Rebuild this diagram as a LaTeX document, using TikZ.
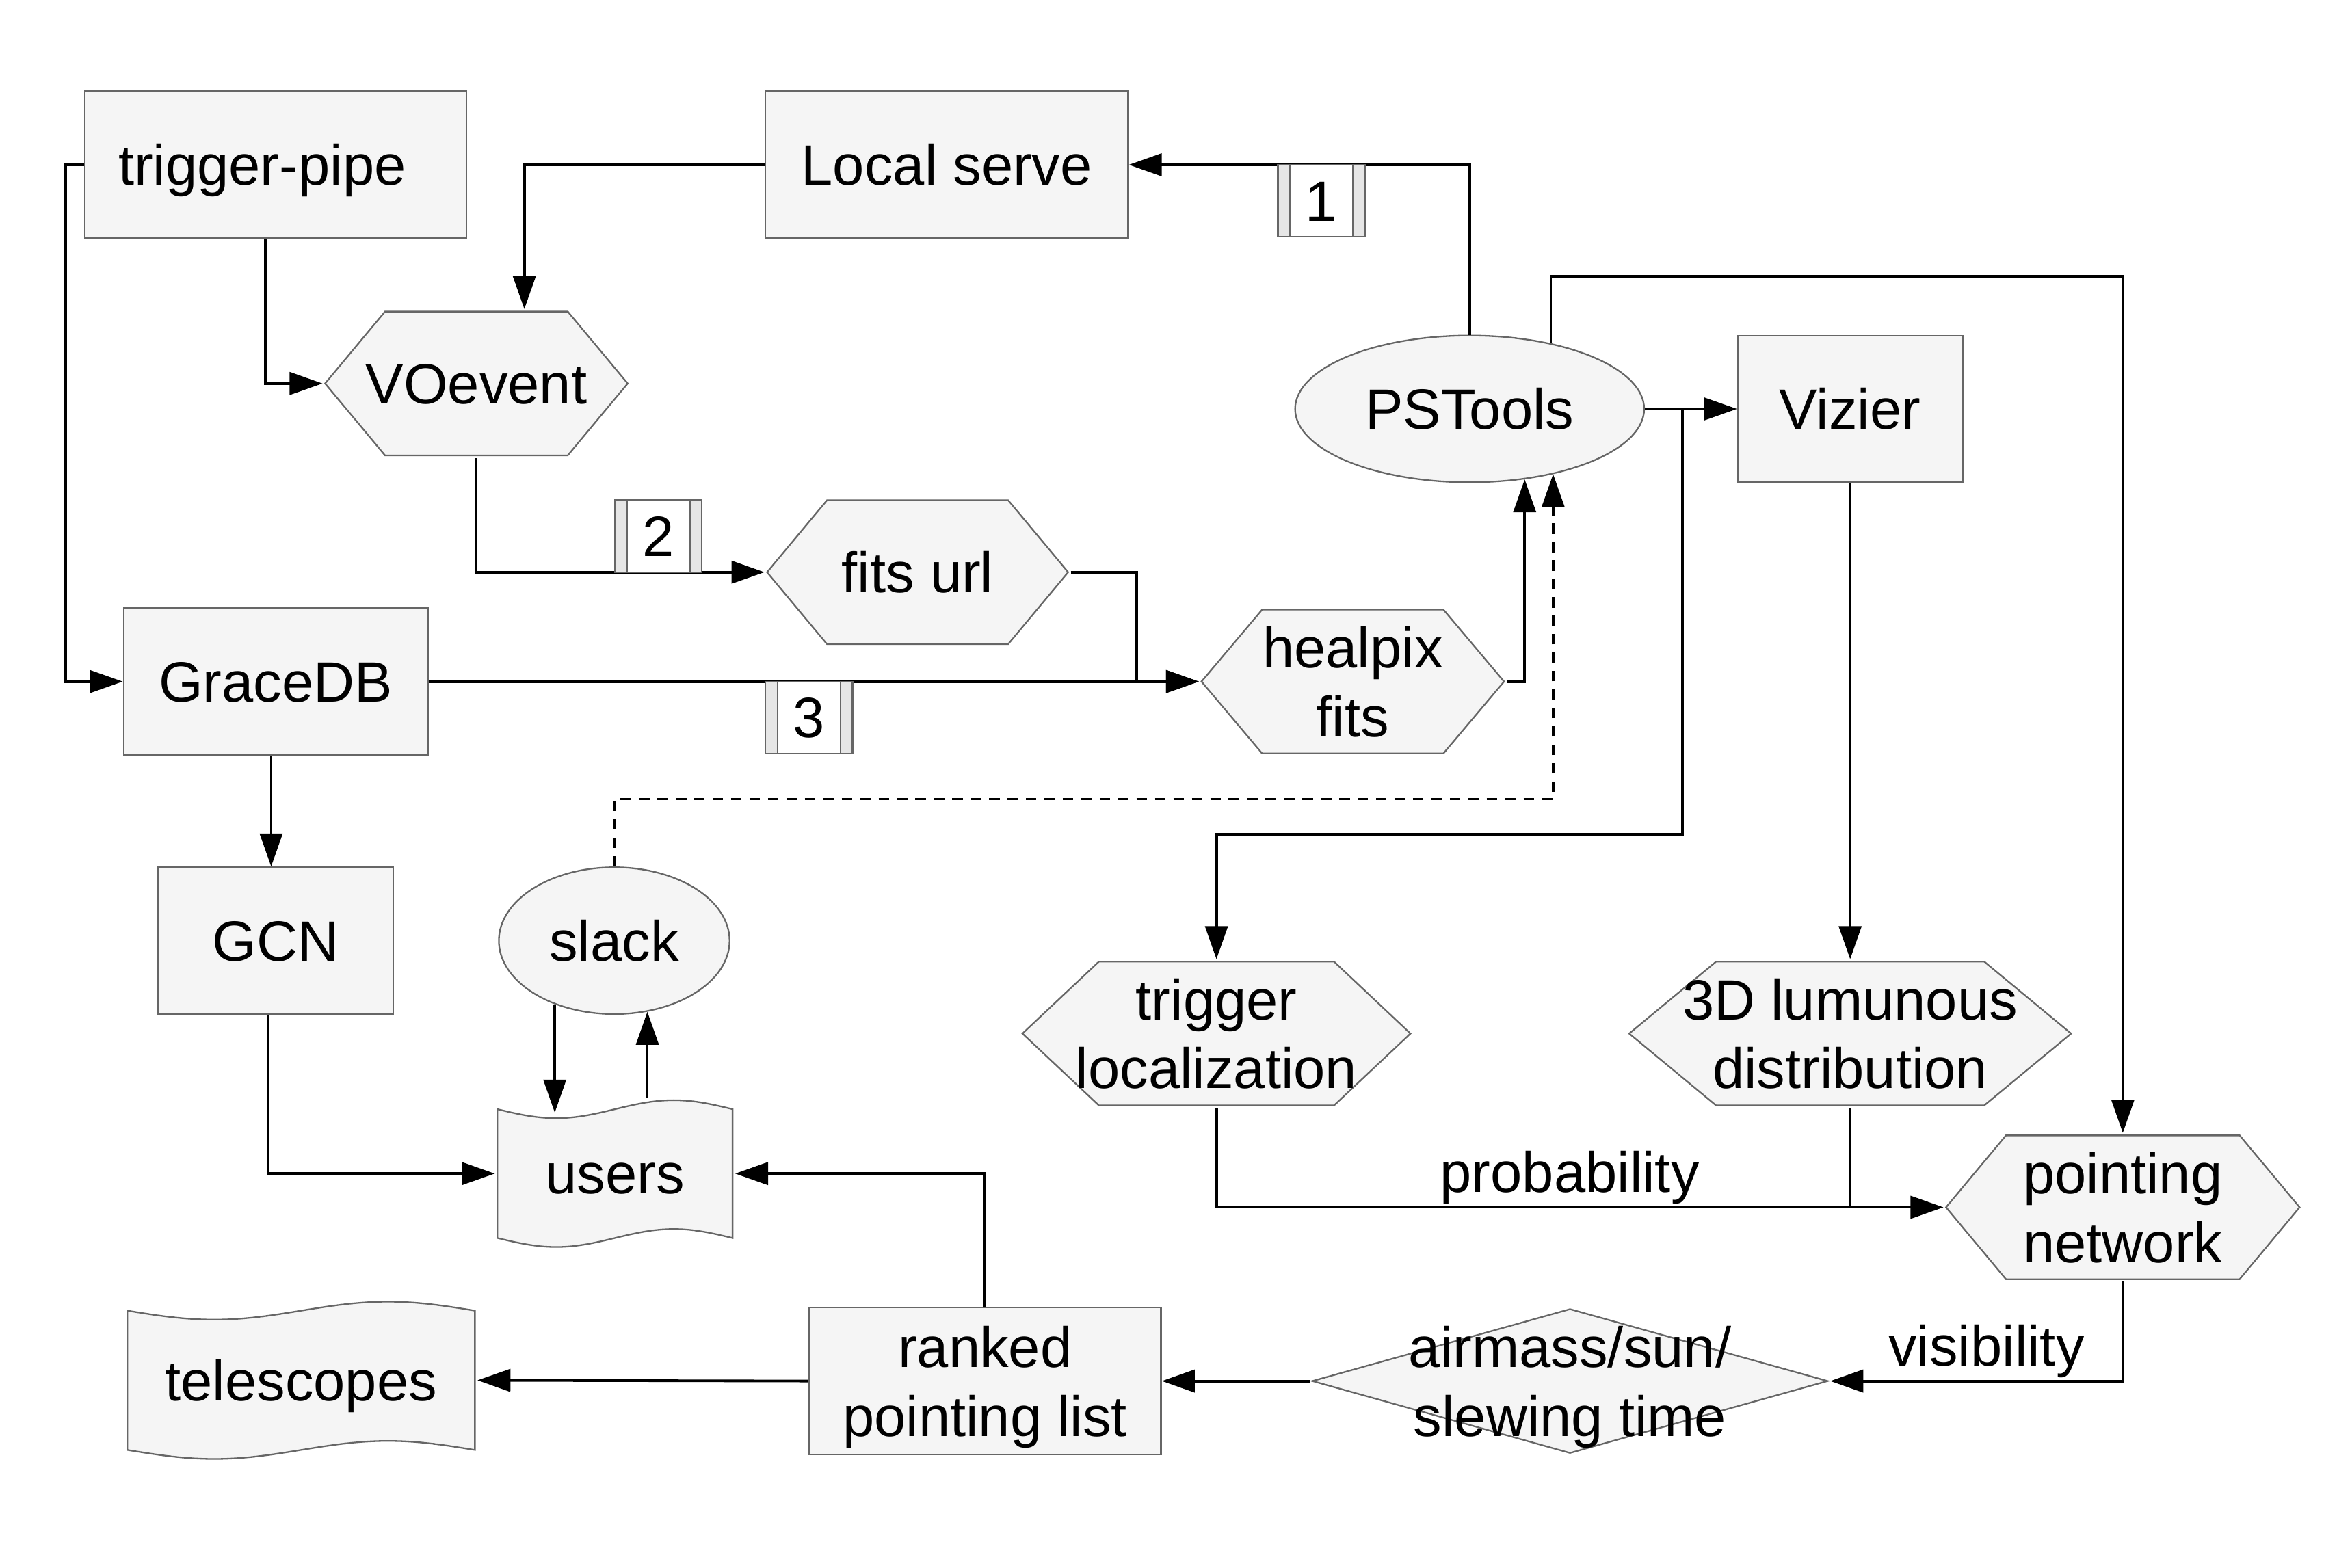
\documentclass[tikz,border=0pt]{standalone}
\usepackage{fontspec}
\setmainfont{Liberation Sans}
\usetikzlibrary{arrows.meta,shapes.geometric,calc}
\definecolor{boxfill}{HTML}{F5F5F5}
\definecolor{boxline}{HTML}{666666}
\definecolor{stripfill}{HTML}{E6E6E6}
\tikzset{
  every node/.style={font=\fontsize{10.8}{13.1}\selectfont, inner sep=0pt,
    text height=0.27cm, text depth=0pt},
  shapeline/.style={fill=boxfill, draw=boxline, line width=0.3pt},
  rectbox/.style={rectangle, shapeline, minimum height=0.98cm},
  ellbox/.style={ellipse, shapeline, minimum height=0.98cm},
  twoline/.style={align=center, text height=},
  hexbox/.style={minimum height=0.98cm, path picture={
    \filldraw[shapeline] ([xshift=0.01cm]path picture bounding box.west)
      -- ([xshift=#1,yshift=-0.01cm]path picture bounding box.north west)
      -- ([xshift=-#1,yshift=-0.01cm]path picture bounding box.north east)
      -- ([xshift=-0.01cm]path picture bounding box.east)
      -- ([xshift=-#1,yshift=0.01cm]path picture bounding box.south east)
      -- ([xshift=#1,yshift=0.01cm]path picture bounding box.south west) -- cycle;}},
  diabox/.style={minimum height=0.98cm, path picture={
    \filldraw[shapeline] ([xshift=0.01cm]path picture bounding box.west)
      -- ([yshift=-0.01cm]path picture bounding box.north)
      -- ([xshift=-0.01cm]path picture bounding box.east)
      -- ([yshift=0.01cm]path picture bounding box.south) -- cycle;}},
  tapebox/.style={minimum width=#1, path picture={
    \filldraw[shapeline] ([xshift=0.01cm,yshift=-0.07cm]path picture bounding box.north west)
      sin ++(#1/4-0.005cm,-0.06cm) cos ++(#1/4-0.005cm,0.06cm)
      sin ++(#1/4-0.005cm,0.06cm) cos ++(#1/4-0.005cm,-0.06cm)
      -- ([xshift=-0.01cm,yshift=0.07cm]path picture bounding box.south east)
      sin ++(-#1/4+0.005cm,0.06cm) cos ++(-#1/4+0.005cm,-0.06cm)
      sin ++(-#1/4+0.005cm,-0.06cm) cos ++(-#1/4+0.005cm,0.06cm) -- cycle;}},
  numbox/.style={rectangle, fill=stripfill, draw=boxline, line width=0.3pt,
    minimum width=0.58cm, minimum height=0.48cm, path picture={
    \fill[white] ([xshift=0.08cm]path picture bounding box.north west)
      rectangle ([xshift=-0.08cm]path picture bounding box.south east);
    \draw[boxline, line width=0.3pt]
      ([xshift=0.08cm]path picture bounding box.north west) -- ([xshift=0.08cm]path picture bounding box.south west)
      ([xshift=-0.08cm]path picture bounding box.north east) -- ([xshift=-0.08cm]path picture bounding box.south east);}},
  edgelabel/.style={above=0.09cm}
}
\begin{document}
\begin{tikzpicture}
  \useasboundingbox (0,0) rectangle (15.6,-10.464);
  % boxes
  \node[rectbox, minimum width=2.55cm] (trigpipe) at (1.84,-1.10) {trigger-pipe\kern0.18cm};
  \node[rectbox, minimum width=2.42cm] (local) at (6.32,-1.10) {Local serve};
  \node[hexbox=0.41cm, minimum width=2.04cm] (voevent) at (3.18,-2.56) {VOevent};
  \node[ellbox, minimum width=2.33cm] (pstools) at (9.81,-2.73) {PSTools};
  \node[rectbox, minimum width=1.50cm] (vizier) at (12.35,-2.73) {Vizier};
  \node[hexbox=0.41cm, minimum width=2.03cm] (fitsurl) at (6.125,-3.82) {fits url};
  \node[rectbox, minimum width=2.03cm] (gracedb) at (1.84,-4.55) {GraceDB};
  \node[hexbox=0.415cm, minimum width=2.04cm, twoline] (healpix) at (9.03,-4.55) {healpix\\fits};
  \node[rectbox, minimum width=1.57cm] (gcn) at (1.84,-6.28) {GCN};
  \node[ellbox, minimum width=1.54cm] (slack) at (4.10,-6.28) {slack};
  \node[tapebox=1.59cm, minimum height=1.0cm] (users) at (4.105,-7.835) {users};
  \node[hexbox=0.52cm, minimum width=2.61cm, twoline] (trigloc) at (8.12,-6.90) {trigger\\localization};
  \node[hexbox=0.59cm, minimum width=2.97cm, twoline] (lum3d) at (12.35,-6.90) {3D lumunous\\distribution};
  \node[hexbox=0.41cm, minimum width=2.38cm, twoline] (pointnet) at (14.17,-8.06) {pointing\\network};
  \node[tapebox=2.34cm, minimum height=1.07cm] (telescopes) at (2.01,-9.215) {telescopes};
  \node[rectbox, minimum width=2.35cm, twoline] (ranked) at (6.575,-9.22) {ranked\\pointing list};
  \node[diabox, minimum width=3.46cm, twoline] (airmass) at (10.48,-9.22) {airmass/sun/\\slewing time};
  % links
  \begin{scope}[->, >={Triangle[length=2.2mm,width=1.5mm]}, line width=0.5pt]
    \draw (trigpipe.west) -- ++(-0.12,0) |- (gracedb.west);
    \draw ([xshift=-0.07cm]trigpipe.south) |- (voevent.west);
    \draw (local.west) -| ([xshift=0.32cm]voevent.north);
    \draw (pstools.north) |- (local.east);
    \draw (voevent.south) |- (fitsurl.west);
    \draw (fitsurl.east) -- ++(0.44,0) |- (healpix.west);
    \draw (gracedb.east) -- (healpix.west);
    \draw (healpix.east) -| (pstools.308);
    \draw[dash pattern=on 2pt off 1.5pt] (slack.north) -- ++(0,0.45) -| (pstools.322);
    \draw (pstools.east) -- (vizier.west);
    \draw (pstools.east) -- ++(0.25,0) -- ++(0,-2.84) -| (trigloc.north);
    \draw (pstools.39) -- ++(0,0.445) -| (pointnet.north);
    \draw (vizier.south) -- (lum3d.north);
    \draw (trigloc.south) |- node[edgelabel, pos=0.743] {probability} (pointnet.west);
    \draw[-] (lum3d.south) -- (lum3d.south |- pointnet.west);
    \draw (pointnet.south) |- node[edgelabel, pos=0.733] {visibility} (airmass.east);
    \draw (airmass.west) -- (ranked.east);
    \draw (ranked.west) -- (telescopes.east);
    \draw (ranked.north) |- (users.east);
    \draw ([xshift=-0.05cm]gcn.south) |- (users.west);
    \draw ([xshift=-0.03cm]gracedb.south) -- ([xshift=-0.03cm]gcn.north);
    \draw (slack.227) -- ($(slack.227 |- users.north)+(0,-0.1)$);
    \draw (slack.295 |- users.north) -- (slack.295);
  \end{scope}
  % numbered steps
  \node[numbox] (step1) at (8.82,-1.34) {1};
  \node[numbox] (step2) at (4.395,-3.58) {2};
  \node[numbox] (step3) at (5.40,-4.79) {3};
\end{tikzpicture}
\end{document}
